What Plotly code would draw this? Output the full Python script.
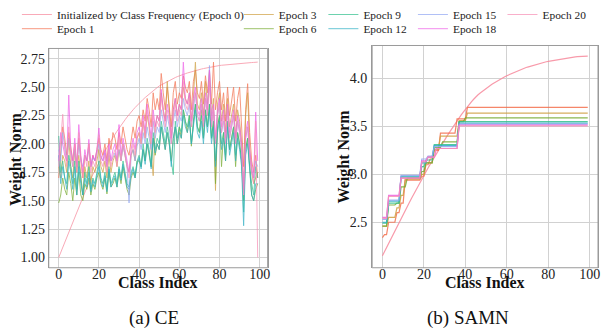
import plotly.graph_objects as go

# ---------------- data ----------------
class_index = list(range(100))

series_names = ["Initialized by Class Frequency (Epoch 0)", "Epoch 1", "Epoch 3", "Epoch 6",
                "Epoch 9", "Epoch 12", "Epoch 15", "Epoch 18", "Epoch 20"]
series_colors = ["#f7899c", "#f4714f", "#cfa043", "#77ab31", "#33c08e",
                 "#30afc4", "#93a7f2", "#ee5fe8", "#f78fb5"]

x_ticks = [0, 20, 40, 60, 80, 100]
ce_y_ticks = [1.00, 1.25, 1.50, 1.75, 2.00, 2.25, 2.50, 2.75]
samn_y_ticks = [2.5, 3.0, 3.5, 4.0]

# (a) CE
ce_init = [1.000, 1.044, 1.088, 1.132, 1.176, 1.220, 1.266, 1.312, 1.358, 1.404,
           1.450, 1.492, 1.534, 1.576, 1.618, 1.660, 1.696, 1.732, 1.768, 1.804,
           1.840, 1.872, 1.904, 1.936, 1.968, 2.000, 2.028, 2.056, 2.084, 2.112,
           2.140, 2.164, 2.188, 2.212, 2.236, 2.260, 2.280, 2.300, 2.320, 2.340,
           2.360, 2.376, 2.392, 2.408, 2.424, 2.440, 2.454, 2.468, 2.482, 2.496,
           2.510, 2.520, 2.530, 2.540, 2.550, 2.560, 2.568, 2.576, 2.584, 2.592,
           2.600, 2.606, 2.612, 2.618, 2.624, 2.630, 2.635, 2.640, 2.645, 2.650,
           2.655, 2.659, 2.663, 2.667, 2.671, 2.675, 2.678, 2.681, 2.684, 2.687,
           2.690, 2.692, 2.694, 2.696, 2.698, 2.700, 2.702, 2.704, 2.706, 2.708,
           2.710, 2.711, 2.712, 2.713, 2.714, 2.715, 2.716, 2.717, 2.718, 2.720]
ce_e1 = [1.70, 1.95, 2.15, 2.05, 1.90, 2.10, 1.95, 1.85, 2.00, 1.80,
         2.05, 1.85, 1.70, 1.90, 1.85, 2.00, 1.80, 1.90, 1.85, 1.95,
         2.05, 1.95, 1.90, 2.00, 1.85, 2.05, 1.95, 2.10, 2.05, 1.95,
         2.10, 2.00, 2.15, 2.05, 1.95, 1.90, 2.05, 2.15, 2.05, 2.20,
         2.25, 2.15, 2.30, 2.20, 2.40, 2.30, 2.15, 2.45, 2.30, 2.40,
         2.30, 2.62, 2.45, 2.30, 2.50, 2.35, 2.15, 2.45, 2.55, 2.35,
         2.45, 2.40, 2.60, 2.50, 2.45, 2.55, 2.30, 2.55, 2.65, 2.45,
         2.40, 2.55, 2.35, 2.60, 2.45, 2.65, 2.35, 2.72, 2.30, 2.45,
         2.55, 2.30, 2.45, 2.20, 2.50, 2.25, 2.40, 2.50, 2.20, 2.40,
         2.50, 2.20, 1.80, 2.30, 2.53, 2.10, 1.85, 1.75, 1.90, 1.70]
ce_e3 = [1.80, 1.70, 1.90, 1.85, 1.75, 2.05, 1.80, 1.70, 1.95, 1.75,
         1.90, 1.70, 1.55, 1.80, 1.70, 1.85, 1.65, 1.80, 1.75, 1.85,
         1.95, 1.80, 1.75, 1.85, 1.70, 1.90, 1.75, 1.85, 1.90, 1.80,
         1.95, 1.85, 2.00, 1.90, 1.80, 1.75, 1.90, 1.95, 1.85, 2.05,
         2.10, 2.00, 2.20, 2.05, 2.25, 2.15, 1.95, 1.72, 2.15, 2.25,
         2.20, 2.45, 2.30, 2.20, 2.55, 2.25, 2.05, 2.30, 2.40, 2.25,
         2.35, 2.30, 2.50, 2.40, 2.35, 2.45, 2.20, 2.40, 2.72, 2.35,
         2.30, 2.45, 2.25, 2.55, 2.35, 2.55, 2.25, 2.40, 1.59, 2.35,
         2.45, 2.20, 2.35, 2.10, 2.40, 2.15, 2.25, 2.35, 2.05, 2.30,
         2.20, 2.00, 1.60, 2.25, 2.45, 1.95, 1.75, 1.65, 1.70, 1.75]
ce_e6 = [1.48, 1.55, 1.70, 1.60, 1.55, 1.75, 1.65, 1.50, 1.70, 1.55,
         1.75, 1.55, 1.50, 1.65, 1.60, 1.70, 1.55, 1.65, 1.60, 1.70,
         1.75, 1.65, 1.60, 1.70, 1.56, 1.75, 1.62, 1.65, 1.70, 1.62,
         1.75, 1.65, 1.80, 1.70, 1.60, 1.55, 1.70, 1.75, 1.70, 1.85,
         1.85, 1.80, 1.95, 1.85, 2.00, 1.90, 1.80, 2.05, 1.90, 2.00,
         1.95, 2.15, 2.05, 1.95, 2.10, 2.00, 1.85, 2.05, 2.15, 2.00,
         2.15, 2.05, 2.30, 2.20, 2.10, 2.25, 1.98, 2.20, 2.35, 2.15,
         2.10, 2.30, 2.05, 2.30, 2.15, 2.35, 2.05, 2.20, 1.65, 2.15,
         2.25, 1.80, 2.10, 1.85, 2.20, 1.95, 2.05, 2.15, 1.80, 2.10,
         2.00, 1.85, 1.50, 1.95, 2.05, 1.80, 1.55, 1.50, 1.60, 1.65]
ce_e9 = [2.07, 1.75, 1.85, 1.70, 1.65, 1.90, 1.80, 1.65, 1.85, 1.60,
         1.85, 1.70, 1.55, 1.75, 1.65, 1.80, 1.60, 1.70, 1.65, 1.75,
         1.85, 1.70, 1.65, 1.75, 1.60, 1.80, 1.65, 1.70, 1.75, 1.65,
         1.80, 1.70, 1.85, 1.75, 1.65, 1.62, 1.75, 1.80, 1.72, 1.85,
         1.90, 1.80, 2.00, 1.85, 2.05, 1.95, 1.80, 2.10, 1.95, 2.05,
         2.00, 2.20, 2.10, 2.00, 2.15, 2.05, 1.85, 1.73, 2.20, 2.05,
         2.15, 2.10, 2.30, 2.20, 2.15, 2.25, 2.00, 2.20, 2.35, 2.15,
         2.10, 2.25, 2.05, 2.30, 2.15, 2.35, 2.05, 2.20, 1.85, 2.15,
         2.25, 2.00, 2.10, 1.90, 2.20, 1.95, 2.05, 2.15, 1.90, 2.10,
         2.00, 1.85, 1.40, 1.95, 2.05, 1.80, 1.65, 1.55, 1.80, 1.70]
ce_e12 = [1.90, 1.65, 1.80, 1.70, 1.60, 1.85, 1.75, 1.60, 1.80, 1.55,
          1.80, 1.65, 1.55, 1.70, 1.62, 1.75, 1.58, 1.68, 1.62, 1.72,
          1.80, 1.68, 1.62, 1.72, 1.58, 1.78, 1.62, 1.68, 1.72, 1.62,
          1.78, 1.68, 1.82, 1.72, 1.62, 1.60, 1.72, 1.78, 1.70, 1.82,
          1.88, 1.78, 1.95, 1.82, 2.00, 1.92, 1.78, 2.05, 1.92, 2.00,
          1.95, 2.15, 2.05, 1.95, 2.10, 2.00, 1.80, 2.05, 2.15, 2.00,
          2.10, 2.05, 2.25, 2.15, 2.10, 2.20, 2.00, 2.15, 2.30, 2.10,
          2.05, 2.20, 2.00, 2.25, 2.10, 2.30, 2.00, 2.15, 1.80, 2.10,
          2.20, 1.95, 2.05, 1.85, 2.15, 1.90, 2.00, 2.10, 1.85, 2.05,
          1.95, 1.80, 1.28, 1.90, 2.00, 1.75, 1.55, 1.50, 1.65, 1.65]
ce_e15 = [1.95, 1.85, 2.10, 1.95, 1.85, 2.05, 1.90, 1.80, 1.95, 1.80,
          2.00, 1.85, 1.80, 1.90, 1.85, 1.95, 1.80, 1.88, 1.85, 1.92,
          2.00, 1.88, 1.85, 1.92, 1.80, 1.95, 1.85, 1.88, 1.92, 1.85,
          1.95, 1.85, 1.98, 1.90, 1.80, 1.48, 1.90, 1.95, 1.85, 1.98,
          2.05, 1.95, 2.10, 2.00, 2.15, 2.05, 1.95, 2.20, 2.05, 2.15,
          2.10, 2.30, 2.20, 2.10, 2.25, 2.15, 2.00, 2.20, 2.30, 2.15,
          2.25, 2.20, 2.40, 2.30, 2.25, 2.35, 2.15, 2.30, 2.45, 2.25,
          2.20, 2.35, 2.15, 2.40, 2.25, 2.69, 2.15, 2.30, 2.00, 2.25,
          2.35, 2.10, 2.20, 2.00, 2.30, 2.05, 2.15, 2.25, 2.00, 2.20,
          2.10, 1.95, 1.55, 2.05, 2.15, 1.90, 1.75, 1.70, 1.85, 1.80]
ce_e18 = [1.85, 2.10, 2.00, 1.90, 1.85, 2.43, 1.95, 1.85, 2.05, 1.80,
          2.17, 1.90, 1.75, 1.95, 1.85, 2.04, 1.80, 1.90, 1.85, 1.95,
          2.14, 1.90, 1.85, 1.95, 1.80, 2.00, 1.85, 1.95, 2.00, 1.85,
          2.17, 1.90, 2.05, 1.95, 1.85, 1.75, 1.95, 2.05, 1.95, 2.10,
          2.15, 2.05, 2.25, 2.10, 2.35, 2.20, 2.05, 2.30, 2.15, 2.25,
          2.20, 2.48, 2.30, 2.20, 2.35, 2.25, 2.05, 2.30, 2.40, 2.25,
          2.35, 2.30, 2.72, 2.40, 2.35, 2.45, 2.20, 2.40, 2.50, 2.30,
          2.25, 2.40, 2.20, 2.45, 2.30, 2.65, 2.20, 2.35, 2.05, 2.30,
          2.40, 2.15, 2.30, 2.05, 2.35, 2.10, 2.20, 2.30, 2.05, 2.25,
          2.15, 2.00, 1.60, 2.10, 2.20, 1.95, 1.80, 1.70, 2.28, 1.85]
ce_e20 = [1.80, 2.00, 2.26, 1.95, 1.80, 2.15, 1.90, 1.80, 2.00, 1.75,
          2.10, 1.85, 1.70, 1.90, 1.80, 2.00, 1.75, 1.85, 1.80, 1.90,
          2.08, 1.85, 1.80, 1.90, 1.75, 1.95, 1.80, 1.90, 1.95, 1.80,
          2.05, 1.85, 2.00, 1.90, 1.80, 1.70, 1.90, 2.00, 1.90, 2.05,
          2.10, 2.00, 2.20, 2.05, 2.30, 2.15, 2.00, 2.25, 2.10, 2.20,
          2.15, 2.40, 2.25, 2.15, 2.30, 2.20, 2.00, 2.25, 2.35, 2.20,
          2.30, 2.25, 2.55, 2.35, 2.30, 2.40, 2.15, 2.35, 2.45, 2.25,
          2.20, 2.35, 2.15, 2.40, 2.25, 2.55, 2.15, 2.30, 2.00, 2.25,
          2.35, 2.10, 2.25, 2.00, 2.30, 2.05, 2.15, 2.25, 2.00, 2.20,
          2.10, 1.95, 1.55, 2.05, 2.15, 1.90, 1.75, 1.65, 2.20, 1.00]

# (b) SAMN
samn_init = [2.150, 2.194, 2.238, 2.282, 2.326, 2.370, 2.412, 2.454, 2.496, 2.538,
             2.580, 2.622, 2.664, 2.706, 2.748, 2.790, 2.830, 2.870, 2.910, 2.950,
             2.990, 3.028, 3.066, 3.104, 3.142, 3.180, 3.216, 3.252, 3.288, 3.324,
             3.360, 3.394, 3.428, 3.462, 3.496, 3.530, 3.560, 3.590, 3.620, 3.650,
             3.680, 3.706, 3.732, 3.758, 3.784, 3.810, 3.828, 3.846, 3.864, 3.882,
             3.900, 3.914, 3.928, 3.942, 3.956, 3.970, 3.982, 3.994, 4.006, 4.018,
             4.030, 4.040, 4.050, 4.060, 4.070, 4.080, 4.088, 4.096, 4.104, 4.112,
             4.120, 4.127, 4.134, 4.141, 4.148, 4.155, 4.160, 4.165, 4.170, 4.175,
             4.180, 4.184, 4.188, 4.192, 4.196, 4.200, 4.204, 4.208, 4.212, 4.216,
             4.220, 4.222, 4.224, 4.226, 4.228, 4.230, 4.231, 4.232, 4.234, 4.235]
samn_e1 = [2.34, 2.37, 2.37, 2.50, 2.50, 2.50, 2.50, 2.60, 2.60, 2.70,
           2.70, 2.94, 2.94, 2.94, 2.94, 2.94, 2.94, 2.94, 2.94, 2.98,
           2.98, 3.10, 3.10, 3.16, 3.16, 3.25, 3.25, 3.25, 3.43, 3.43,
           3.43, 3.43, 3.43, 3.43, 3.43, 3.43, 3.58, 3.58, 3.58, 3.58,
           3.58, 3.70, 3.70, 3.70, 3.70, 3.70, 3.70, 3.70, 3.70, 3.70,
           3.70, 3.70, 3.70, 3.70, 3.70, 3.70, 3.70, 3.70, 3.70, 3.70,
           3.70, 3.70, 3.70, 3.70, 3.70, 3.70, 3.70, 3.70, 3.70, 3.70,
           3.70, 3.70, 3.70, 3.70, 3.70, 3.70, 3.70, 3.70, 3.70, 3.70,
           3.70, 3.70, 3.70, 3.70, 3.70, 3.70, 3.70, 3.70, 3.70, 3.70,
           3.70, 3.70, 3.70, 3.70, 3.70, 3.70, 3.70, 3.70, 3.70, 3.70]
samn_e3 = [2.46, 2.46, 2.46, 2.55, 2.55, 2.55, 2.55, 2.65, 2.65, 2.78,
           2.78, 2.95, 2.95, 2.95, 2.95, 2.95, 2.95, 2.95, 2.95, 3.00,
           3.00, 3.12, 3.12, 3.12, 3.12, 3.26, 3.26, 3.26, 3.40, 3.40,
           3.40, 3.40, 3.40, 3.40, 3.40, 3.40, 3.40, 3.56, 3.56, 3.56,
           3.56, 3.64, 3.64, 3.64, 3.64, 3.64, 3.64, 3.64, 3.64, 3.64,
           3.64, 3.64, 3.64, 3.64, 3.64, 3.64, 3.64, 3.64, 3.64, 3.64,
           3.64, 3.64, 3.64, 3.64, 3.64, 3.64, 3.64, 3.64, 3.64, 3.64,
           3.64, 3.64, 3.64, 3.64, 3.64, 3.64, 3.64, 3.64, 3.64, 3.64,
           3.64, 3.64, 3.64, 3.64, 3.64, 3.64, 3.64, 3.64, 3.64, 3.64,
           3.64, 3.64, 3.64, 3.64, 3.64, 3.64, 3.64, 3.64, 3.64, 3.64]
samn_e6 = [2.46, 2.46, 2.46, 2.68, 2.68, 2.68, 2.68, 2.70, 2.70, 2.87,
           2.87, 2.87, 2.96, 2.96, 2.96, 2.96, 2.96, 2.96, 2.96, 3.03,
           3.03, 3.12, 3.12, 3.12, 3.12, 3.28, 3.28, 3.28, 3.28, 3.34,
           3.34, 3.34, 3.34, 3.34, 3.34, 3.34, 3.34, 3.55, 3.55, 3.55,
           3.59, 3.59, 3.59, 3.59, 3.59, 3.59, 3.59, 3.59, 3.59, 3.59,
           3.59, 3.59, 3.59, 3.59, 3.59, 3.59, 3.59, 3.59, 3.59, 3.59,
           3.59, 3.59, 3.59, 3.59, 3.59, 3.59, 3.59, 3.59, 3.59, 3.59,
           3.59, 3.59, 3.59, 3.59, 3.59, 3.59, 3.59, 3.59, 3.59, 3.59,
           3.59, 3.59, 3.59, 3.59, 3.59, 3.59, 3.59, 3.59, 3.59, 3.59,
           3.59, 3.59, 3.59, 3.59, 3.59, 3.59, 3.59, 3.59, 3.59, 3.59]
samn_e9 = [2.49, 2.49, 2.49, 2.70, 2.70, 2.70, 2.70, 2.70, 2.70, 2.97,
           2.97, 2.97, 2.97, 2.97, 2.97, 2.97, 2.97, 2.97, 2.97, 3.08,
           3.08, 3.15, 3.15, 3.15, 3.15, 3.31, 3.31, 3.31, 3.31, 3.31,
           3.31, 3.31, 3.31, 3.31, 3.31, 3.31, 3.31, 3.55, 3.55, 3.55,
           3.55, 3.55, 3.55, 3.55, 3.55, 3.55, 3.55, 3.55, 3.55, 3.55,
           3.55, 3.55, 3.55, 3.55, 3.55, 3.55, 3.55, 3.55, 3.55, 3.55,
           3.55, 3.55, 3.55, 3.55, 3.55, 3.55, 3.55, 3.55, 3.55, 3.55,
           3.55, 3.55, 3.55, 3.55, 3.55, 3.55, 3.55, 3.55, 3.55, 3.55,
           3.55, 3.55, 3.55, 3.55, 3.55, 3.55, 3.55, 3.55, 3.55, 3.55,
           3.55, 3.55, 3.55, 3.55, 3.55, 3.55, 3.55, 3.55, 3.55, 3.55]
samn_e12 = [2.50, 2.50, 2.50, 2.72, 2.72, 2.72, 2.72, 2.72, 2.72, 2.98,
            2.98, 2.98, 2.98, 2.98, 2.98, 2.98, 2.98, 2.98, 2.98, 3.12,
            3.12, 3.12, 3.18, 3.18, 3.18, 3.30, 3.30, 3.30, 3.30, 3.30,
            3.30, 3.30, 3.30, 3.30, 3.30, 3.30, 3.30, 3.535, 3.535, 3.535,
            3.535, 3.535, 3.535, 3.535, 3.535, 3.535, 3.535, 3.535, 3.535, 3.535,
            3.535, 3.535, 3.535, 3.535, 3.535, 3.535, 3.535, 3.535, 3.535, 3.535,
            3.535, 3.535, 3.535, 3.535, 3.535, 3.535, 3.535, 3.535, 3.535, 3.535,
            3.535, 3.535, 3.535, 3.535, 3.535, 3.535, 3.535, 3.535, 3.535, 3.535,
            3.535, 3.535, 3.535, 3.535, 3.535, 3.535, 3.535, 3.535, 3.535, 3.535,
            3.535, 3.535, 3.535, 3.535, 3.535, 3.535, 3.535, 3.535, 3.535, 3.535]
samn_e15 = [2.53, 2.53, 2.53, 2.73, 2.73, 2.73, 2.73, 2.73, 2.73, 2.99,
            2.99, 2.99, 2.99, 2.99, 2.99, 2.99, 2.99, 2.99, 2.99, 3.16,
            3.16, 3.16, 3.19, 3.19, 3.19, 3.29, 3.29, 3.29, 3.29, 3.29,
            3.29, 3.29, 3.29, 3.29, 3.29, 3.29, 3.29, 3.525, 3.525, 3.525,
            3.525, 3.525, 3.525, 3.525, 3.525, 3.525, 3.525, 3.525, 3.525, 3.525,
            3.525, 3.525, 3.525, 3.525, 3.525, 3.525, 3.525, 3.525, 3.525, 3.525,
            3.525, 3.525, 3.525, 3.525, 3.525, 3.525, 3.525, 3.525, 3.525, 3.525,
            3.525, 3.525, 3.525, 3.525, 3.525, 3.525, 3.525, 3.525, 3.525, 3.525,
            3.525, 3.525, 3.525, 3.525, 3.525, 3.525, 3.525, 3.525, 3.525, 3.525,
            3.525, 3.525, 3.525, 3.525, 3.525, 3.525, 3.525, 3.525, 3.525, 3.525]
samn_e18 = [2.55, 2.55, 2.55, 2.78, 2.78, 2.78, 2.78, 2.78, 2.78, 2.96,
            2.96, 2.96, 2.96, 2.96, 2.96, 2.96, 2.96, 2.96, 2.96, 3.14,
            3.14, 3.14, 3.18, 3.18, 3.18, 3.18, 3.27, 3.27, 3.27, 3.27,
            3.27, 3.27, 3.27, 3.27, 3.27, 3.27, 3.27, 3.515, 3.515, 3.515,
            3.515, 3.515, 3.515, 3.515, 3.515, 3.515, 3.515, 3.515, 3.515, 3.515,
            3.515, 3.515, 3.515, 3.515, 3.515, 3.515, 3.515, 3.515, 3.515, 3.515,
            3.515, 3.515, 3.515, 3.515, 3.515, 3.515, 3.515, 3.515, 3.515, 3.515,
            3.515, 3.515, 3.515, 3.515, 3.515, 3.515, 3.515, 3.515, 3.515, 3.515,
            3.515, 3.515, 3.515, 3.515, 3.515, 3.515, 3.515, 3.515, 3.515, 3.515,
            3.515, 3.515, 3.515, 3.515, 3.515, 3.515, 3.515, 3.515, 3.515, 3.515]
samn_e20 = [2.54, 2.54, 2.54, 2.77, 2.77, 2.77, 2.77, 2.77, 2.77, 2.96,
            2.96, 2.96, 2.96, 2.96, 2.96, 2.96, 2.96, 2.96, 2.96, 3.13,
            3.13, 3.13, 3.18, 3.18, 3.18, 3.18, 3.27, 3.27, 3.27, 3.27,
            3.27, 3.27, 3.27, 3.27, 3.27, 3.27, 3.27, 3.505, 3.505, 3.505,
            3.505, 3.505, 3.505, 3.505, 3.505, 3.505, 3.505, 3.505, 3.505, 3.505,
            3.505, 3.505, 3.505, 3.505, 3.505, 3.505, 3.505, 3.505, 3.505, 3.505,
            3.505, 3.505, 3.505, 3.505, 3.505, 3.505, 3.505, 3.505, 3.505, 3.505,
            3.505, 3.505, 3.505, 3.505, 3.505, 3.505, 3.505, 3.505, 3.505, 3.505,
            3.505, 3.505, 3.505, 3.505, 3.505, 3.505, 3.505, 3.505, 3.505, 3.505,
            3.505, 3.505, 3.505, 3.505, 3.505, 3.505, 3.505, 3.505, 3.505, 3.505]

ce_series = [ce_init, ce_e1, ce_e3, ce_e6, ce_e9, ce_e12, ce_e15, ce_e18, ce_e20]
samn_series = [samn_init, samn_e1, samn_e3, samn_e6, samn_e9, samn_e12, samn_e15, samn_e18, samn_e20]

# ---------------- figure ----------------
W, H = 602, 330
FONT = "Liberation Serif"
FRAME = "#9a9a9a"


def fx(p):
    return p / W


def fy(p):
    return 1 - p / H


legend_ids = ["legend"] + ["legend%d" % i for i in range(2, 10)]
legend_xy = [(17, 10.5), (17, 25), (240, 10.5), (240, 25), (325, 10.5),
             (325, 25), (415, 10.5), (415, 25), (505, 10.5)]

fig = go.Figure()
for name, color, ys, lid in zip(series_names, series_colors, ce_series, legend_ids):
    fig.add_trace(go.Scatter(x=class_index, y=ys, mode="lines", name=name,
                             line=dict(color=color, width=0.9), opacity=0.8,
                             xaxis="x", yaxis="y", legend=lid))
for name, color, ys in zip(series_names, series_colors, samn_series):
    fig.add_trace(go.Scatter(x=class_index, y=ys, mode="lines", name=name,
                             line=dict(color=color, width=1.2), opacity=0.85,
                             xaxis="x2", yaxis="y2", showlegend=False))

legends = {}
for lid, (lx, ly) in zip(legend_ids, legend_xy):
    legends[lid] = dict(x=fx(lx), y=fy(ly), xanchor="left", yanchor="middle",
                        bgcolor="rgba(0,0,0,0)", borderwidth=0, itemwidth=30,
                        font=dict(family=FONT, size=11.4, color="#222222"))

grid_common = dict(showgrid=True, gridcolor="#d2d2d2", gridwidth=1, ticks="",
                   zeroline=False, tickfont=dict(family=FONT, size=14, color="#222222"))
y_common = dict(showline=True, linecolor=FRAME, linewidth=1, mirror=True, **grid_common)
x_common = dict(showline=False, **grid_common)

fig.update_layout(
    width=W, height=H,
    margin=dict(l=0, r=0, t=0, b=0),
    paper_bgcolor="white", plot_bgcolor="white",
    xaxis=dict(domain=[fx(49), fx(269)], range=[-4.95, 103.95], tickvals=x_ticks,
               anchor="free", position=fy(263), **x_common),
    yaxis=dict(domain=[fy(267), fy(45)], range=[0.91, 2.84], tickvals=ce_y_ticks,
               tickformat=".2f", anchor="x", **y_common),
    xaxis2=dict(domain=[fx(374), fx(601)], range=[-4.95, 103.95], tickvals=x_ticks,
                anchor="free", position=fy(263), **x_common),
    yaxis2=dict(domain=[fy(267), fy(42)], range=[2.025, 4.345], tickvals=samn_y_ticks,
                tickformat=".1f", anchor="x2", ticklabelstandoff=1, **y_common),
    **legends,
)

# axes frames (spines)
for xr, yr in (("x", "y"), ("x2", "y2")):
    fig.add_shape(type="rect", xref=xr + " domain", yref=yr + " domain",
                  x0=0, x1=1, y0=0, y1=1, line=dict(color=FRAME, width=1),
                  fillcolor="rgba(0,0,0,0)", layer="above")

title_font = dict(family=FONT, size=16, color="#111111")
cap_font = dict(family=FONT, size=19, color="#111111")
annotations = [
    dict(text="<b>Class Index</b>", x=fx(159), y=fy(281.5), font=title_font),
    dict(text="<b>Class Index</b>", x=fx(487), y=fy(281.5), font=title_font),
    dict(text="<b>Weight Norm</b>", x=fx(16), y=fy(157), textangle=-90, font=title_font),
    dict(text="<b>Weight Norm</b>", x=fx(346), y=fy(154), textangle=-90, font=title_font),
    dict(text="(a) CE", x=fx(155), y=fy(318), font=cap_font),
    dict(text="(b) SAMN", x=fx(470), y=fy(318), font=cap_font),
]
for a in annotations:
    fig.add_annotation(xref="paper", yref="paper", xanchor="center", yanchor="middle",
                       showarrow=False, **a)

fig.write_html("out.html", config={"displayModeBar": False},
               post_script="document.body.style.margin='0';document.body.style.overflow='hidden';")
